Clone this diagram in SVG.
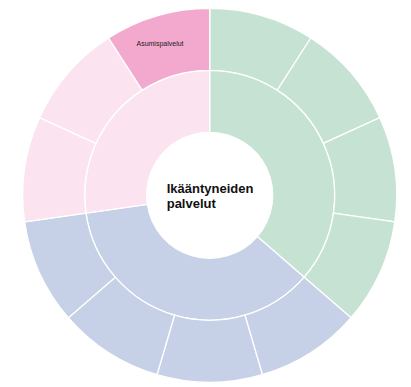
<svg xmlns="http://www.w3.org/2000/svg" width="411" height="387" viewBox="0 0 411 387">
<style>
path{stroke:#ffffff;stroke-width:1.3;stroke-linejoin:round}
.g{fill:#c5e2d3}
.b{fill:#c6d0e6}
.p{fill:#fbe3ef}
.pd{fill:#f3a9cd}
.title{font-family:"Liberation Sans",Arial,sans-serif;font-weight:bold;font-size:13px;fill:#111111}
.lbl{font-family:"Liberation Sans",Arial,sans-serif;font-size:7px;fill:#222222}
</style>
<rect width="411" height="387" fill="#ffffff"/>
<g transform="translate(209.7,195.3)">
  <g id="ring1">
    <g id="node-green"><path class="g" d="M0,-125A125,125 0 0 1 94.47,81.86L47.61,41.26A63,63 0 0 0 0,-63Z"/></g>
    <g id="node-blue"><path class="b" d="M94.47,81.86A125,125 0 0 1 -123.73,17.79L-62.36,8.97A63,63 0 0 0 47.61,41.26Z"/></g>
    <g id="node-pink"><path class="p" d="M-123.73,17.79A125,125 0 0 1 0,-125L0,-63A63,63 0 0 0 -62.36,8.97Z"/></g>
  </g>
  <g id="ring2">
    <g id="leaf-g1"><path class="g" d="M0,-187A187,187 0 0 1 101.10,-157.31L67.58,-105.16A125,125 0 0 0 0,-125Z"/></g>
    <g id="leaf-g2"><path class="g" d="M101.10,-157.31A187,187 0 0 1 170.10,-77.68L113.70,-51.93A125,125 0 0 0 67.58,-105.16Z"/></g>
    <g id="leaf-g3"><path class="g" d="M170.10,-77.68A187,187 0 0 1 185.10,26.61L123.73,17.79A125,125 0 0 0 113.70,-51.93Z"/></g>
    <g id="leaf-g4"><path class="g" d="M185.10,26.61A187,187 0 0 1 141.33,122.46L94.47,81.86A125,125 0 0 0 123.73,17.79Z"/></g>
    <g id="leaf-b1"><path class="b" d="M141.33,122.46A187,187 0 0 1 52.68,179.42L35.22,119.94A125,125 0 0 0 94.47,81.86Z"/></g>
    <g id="leaf-b2"><path class="b" d="M52.68,179.42A187,187 0 0 1 -52.68,179.42L-35.22,119.94A125,125 0 0 0 35.22,119.94Z"/></g>
    <g id="leaf-b3"><path class="b" d="M-52.68,179.42A187,187 0 0 1 -141.33,122.46L-94.47,81.86A125,125 0 0 0 -35.22,119.94Z"/></g>
    <g id="leaf-b4"><path class="b" d="M-141.33,122.46A187,187 0 0 1 -185.10,26.61L-123.73,17.79A125,125 0 0 0 -94.47,81.86Z"/></g>
    <g id="leaf-p1"><path class="p" d="M-185.10,26.61A187,187 0 0 1 -170.10,-77.68L-113.70,-51.93A125,125 0 0 0 -123.73,17.79Z"/></g>
    <g id="leaf-p2"><path class="p" d="M-170.10,-77.68A187,187 0 0 1 -101.10,-157.31L-67.58,-105.16A125,125 0 0 0 -113.70,-51.93Z"/></g>
    <g id="leaf-asumispalvelut"><path class="pd" d="M-101.10,-157.31A187,187 0 0 1 0,-187L0,-125A125,125 0 0 0 -67.58,-105.16Z"/>
      <text class="lbl" x="-49.7" y="-149.3" text-anchor="middle">Asumispalvelut</text></g>
  </g>
  <g id="center">
    <text class="title" x="-43" y="-2.8">Ikääntyneiden</text>
    <text class="title" x="-43" y="12.4">palvelut</text>
  </g>
</g>
</svg>
